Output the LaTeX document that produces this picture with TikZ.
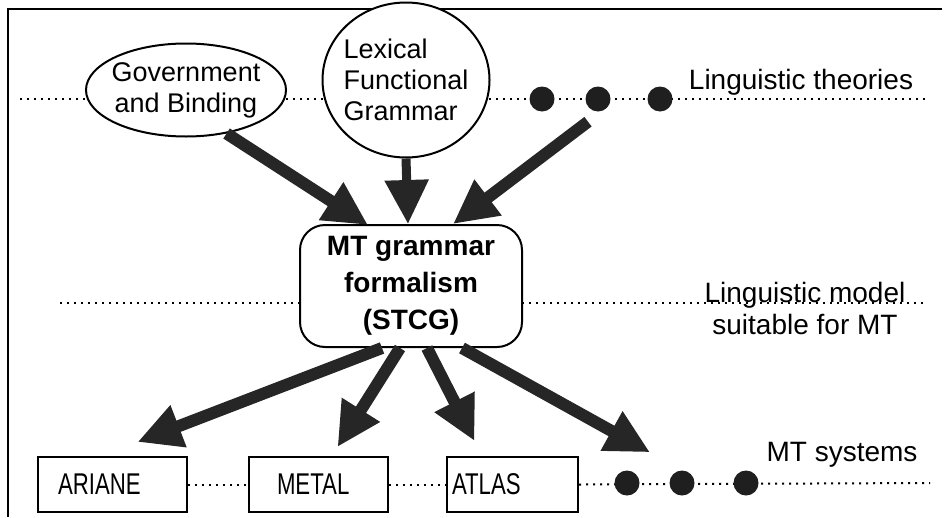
\documentclass[tikz,border=0pt]{standalone}
\usepackage{fontspec}
\setmainfont{Liberation Sans}
\newfontfamily\narrowfont[FakeStretch=0.74]{Liberation Sans}
\usetikzlibrary{shapes.geometric,arrows.meta,calc}
\begin{document}
\begin{tikzpicture}[x=1pt,y=-1pt,
  lbl/.style={font=\fontsize{28}{32}\selectfont, inner sep=0pt, align=center},
  dotline/.style={line width=2pt, dash pattern=on 2pt off 5pt},
  oval/.style={draw, ellipse, line width=2pt, fill=white, inner sep=0pt,
    font=\fontsize{27}{31}\selectfont},
  sysbox/.style={draw, line width=2pt, fill=white, minimum height=55pt,
    inner ysep=0pt, align=left, font=\narrowfont\fontsize{30}{32}\selectfont},
  mtbox/.style={draw, line width=2pt, fill=white, rounded corners=25pt,
    minimum width=222pt, minimum height=122pt, align=center,
    font=\bfseries\fontsize{28}{37}\selectfont},
  blob/.style={circle, fill=black!88, minimum size=25pt, inner sep=0pt},
  bigarrow/.style={line width=12pt, draw=black!85, fill=black!85,
    -{Triangle[length=44pt,width=42pt]}}
]
\useasboundingbox (0,0) rectangle (947,517);
% frame
\draw[line width=2pt] (8,517) -- (8,9) -- (942,9);
% dotted level lines
\coordinate (t0) at (20,99);
\coordinate (t1) at (925,99);
\coordinate (m0) at (60,303);
\coordinate (m1) at (927,303);
\coordinate (b1) at (930,483);
\draw[dotline] (t0) -- (t1);
\draw[dotline] (m0) -- (m1);
% theory nodes
\node[oval, align=center, inner xsep=-7pt, minimum width=200pt, minimum height=93pt] (gb) at (186,90) {Government\\and Binding};
\node[oval, minimum width=167pt, minimum height=155pt, inner xsep=-4pt, align=left] (lfg) at (406,80) {Lexical\\Functional\\Grammar};
\node[blob] (d1) at (542,99) {};
\node[blob] (d2) at (598,99) {};
\node[blob] (d3) at (660,99) {};
\node[lbl] (lt) at (801,82) {Linguistic theories};
% MT formalism
\node[mtbox] (mt) at (411,286) {MT grammar\\formalism\\(STCG)};
\node[lbl] (lm) at (805,308) {Linguistic model\\suitable for MT};
% systems
\node[sysbox, text width=109pt, inner xsep=20pt] (ariane) at (112.5,484.5) {ARIANE};
\node[sysbox, text width=83pt, inner xsep=28pt] (metal) at (318.5,484.5) {METAL};
\node[sysbox, text width=121pt, inner xsep=5pt] (atlas) at (512.5,484.5) {ATLAS};
\draw[dotline] (ariane.east) -- (metal.west);
\draw[dotline] (metal.east) -- (atlas.west);
\draw[dotline] (atlas.east) -- (b1);
\node[blob] (bd1) at (627,483) {};
\node[blob] (bd2) at (682,483) {};
\node[blob] (bd3) at (746,483) {};
\node[lbl] (ms) at (842,455) {MT systems};
% arrows into formalism
\draw[bigarrow] (gb.-47) -- ($(mt.north)+(-43,1)$);
\draw[bigarrow, line width=9pt] (lfg.south) -- ($(mt.north)+(-3,0)$);
\draw[bigarrow] ($(d2.south)+(-10,10)$) -- ($(mt.north)+(42,0)$);
% arrows out of formalism
\draw[bigarrow] ($(mt.south)+(-29,0)$) -- ($(ariane.north)+(25,-14)$);
\draw[bigarrow] ($(mt.south)+(-11,0)$) -- ($(metal.north)+(19,-9)$);
\draw[bigarrow] ($(mt.south)+(16,0)$) -- ($(atlas.north)+(-38,-15)$);
\draw[bigarrow] ($(mt.south)+(51,0)$) -- ($(bd1.north)+(23,-18)$);
\end{tikzpicture}
\end{document}
